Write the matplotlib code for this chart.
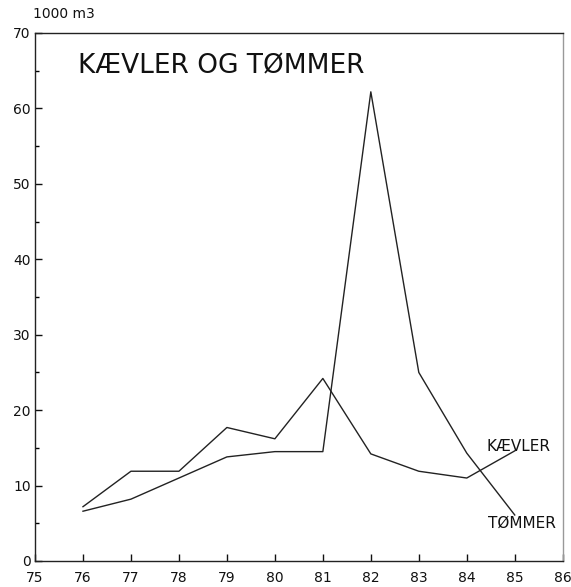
import matplotlib
matplotlib.use('Agg')
import matplotlib.pyplot as plt
from matplotlib.ticker import MultipleLocator

# data (1000 m3 per year)
years = [76, 77, 78, 79, 80, 81, 82, 83, 84, 85]
kaevler = [7.2, 11.9, 11.9, 17.7, 16.2, 24.2, 14.2, 11.9, 11.0, 14.6]
tommer = [6.6, 8.2, 11.0, 13.8, 14.5, 14.5, 62.2, 25.0, 14.3, 6.1]
xticks = list(range(75, 87))
yticks = list(range(0, 71, 10))

fig = plt.figure(figsize=(5.71, 5.87), dpi=100)
ax = fig.add_axes([0.0613, 0.0443, 0.9242, 0.8995])

ax.plot(years, kaevler, color='#222222', lw=1.0)
ax.plot(years, tommer, color='#222222', lw=1.0)

ax.set_xlim(75, 86)
ax.set_ylim(0, 70)
ax.set_xticks(xticks)
ax.set_xticklabels([str(x) for x in xticks])
ax.set_yticks(yticks)
ax.yaxis.set_minor_locator(MultipleLocator(5))
ax.tick_params(direction='in', length=5, width=1, labelsize=10, colors='#111111', pad=3)
ax.tick_params(axis='x', pad=7)
ax.tick_params(axis='y', which='minor', direction='in', length=3, width=1)
for s in ax.spines.values():
    s.set_linewidth(1.0)
    s.set_color('#222222')
ax.spines['right'].set_color('#999999')

ax.text(0.081, 0.924, 'KÆVLER OG TØMMER', transform=ax.transAxes,
        fontsize=19, va='baseline', ha='left', color='#111111')
ax.text(84.42, 15.2, 'KÆVLER', fontsize=11, va='center', ha='left', color='#111111')
ax.text(84.44, 5.0, 'TØMMER', fontsize=11, va='center', ha='left', color='#111111')

fig.text(33 / 571, 1 - 18 / 587, '1000 m3', fontsize=10, va='baseline', ha='left', color='#111111')

fig.savefig('out.png', dpi=100)
